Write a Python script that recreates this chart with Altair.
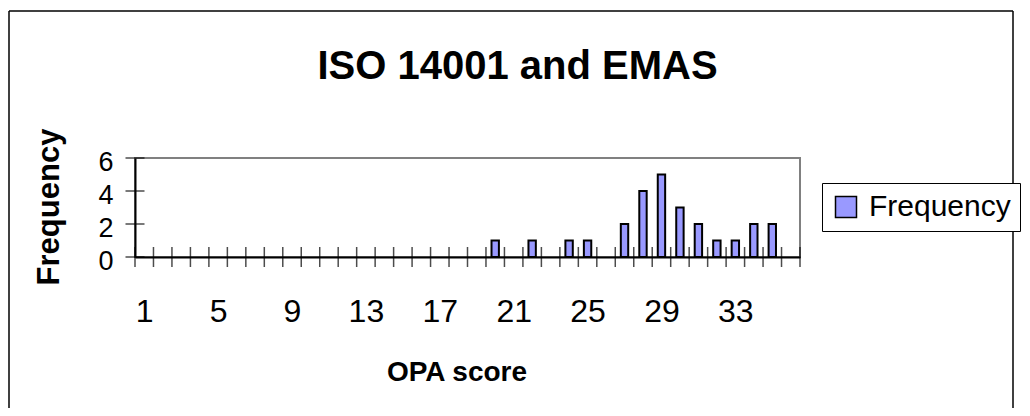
import altair as alt
import pandas as pd

# ---- data ----
scores = list(range(1, 37))
freq = [0] * 19 + [1, 0, 1, 0, 1, 1, 0, 2, 4, 5, 3, 2, 1, 1, 2, 2, 0]
x_labels = [1, 5, 9, 13, 17, 21, 25, 29, 33]
y_ticks = [0, 2, 4, 6]
series_name = "Frequency"
chart_title = "ISO 14001 and EMAS"
x_title = "OPA score"
y_title = "Frequency"

FONT = "Liberation Sans"
BAR_FILL = "#9999FF"

bars_df = pd.DataFrame({"score": scores, "freq": freq, "series": series_name})
bars_df = bars_df[bars_df["freq"] > 0]
xtick_pos = [s - 0.5 for s in scores] + [scores[-1] + 0.5]
xtick_df = pd.DataFrame({"score": xtick_pos, "freq": [0] * len(xtick_pos)})
ytick_df = pd.DataFrame({"freq": y_ticks, "score": [scores[0] - 0.5] * len(y_ticks)})

x_scale = alt.Scale(domain=[scores[0] - 0.5, scores[-1] + 0.5], nice=False, zero=False)
y_scale = alt.Scale(domain=[0, 6], nice=False)

x_axis = alt.Axis(
    values=x_labels, title=x_title, grid=False, ticks=False, tickSize=0,
    domainColor="black", domainWidth=2,
    labelFont=FONT, labelFontSize=32, labelColor="black", labelPadding=64,
    labelBaseline="alphabetic", labelFlush=False, labelOverlap=False,
    titleFont=FONT, titleFontSize=28, titleFontWeight="bold", titleColor="black",
    titleX=321.5, titleY=123, titleBaseline="alphabetic", titleAlign="center",
)
y_axis = alt.Axis(
    values=y_ticks, title=y_title, grid=False, ticks=False, tickSize=0,
    domainColor="black", domainWidth=2,
    labelFont=FONT, labelFontSize=27, labelColor="black", labelPadding=22,
    labelBaseline="middle", labelOffset=4, labelFlush=False, labelOverlap=False,
    titleFont=FONT, titleFontSize=31, titleFontWeight="bold", titleColor="black",
    titleAngle=270, titleX=-77, titleY=48.5, titleBaseline="alphabetic", titleAlign="center",
)

bars = alt.Chart(bars_df).transform_calculate(
    x0="datum.score - 0.2", x1="datum.score + 0.2", base="0"
).mark_bar(stroke="black", strokeWidth=2).encode(
    x=alt.X("x0:Q", scale=x_scale, axis=x_axis),
    x2="x1:Q",
    y=alt.Y("freq:Q", scale=y_scale, axis=y_axis),
    y2="base:Q",
    color=alt.Color(
        "series:N",
        scale=alt.Scale(domain=[series_name], range=[BAR_FILL]),
        legend=alt.Legend(
            title=None, orient="none", legendX=687, legendY=25,
            padding=9, strokeColor="black", fillColor="white", cornerRadius=0,
            symbolType="square", symbolSize=441, symbolStrokeColor="black",
            symbolStrokeWidth=1.5, symbolOpacity=1,
            labelFont=FONT, labelFontSize=30, labelColor="black", labelOffset=8,
        ),
    ),
)

xticks = alt.Chart(xtick_df).mark_tick(
    orient="vertical", size=20, thickness=1.5, color="black"
).encode(
    x=alt.X("score:Q", scale=x_scale, axis=x_axis),
    y=alt.Y("freq:Q", scale=y_scale, axis=y_axis),
)

yticks = alt.Chart(ytick_df).mark_tick(
    orient="horizontal", size=19, thickness=1.5, color="black"
).encode(
    x=alt.X("score:Q", scale=x_scale, axis=x_axis),
    y=alt.Y("freq:Q", scale=y_scale, axis=y_axis),
)

title_text = alt.Chart(alt.Data(values=[{"t": chart_title}])).mark_text(
    font=FONT, fontSize=40, fontWeight="bold", color="black",
    align="center", baseline="alphabetic",
).encode(text="t:N", x=alt.value(382.5), y=alt.value(-79))

one = alt.Data(values=[{"a": 1}])
frame_left = alt.Chart(one).mark_rule(color="black", strokeWidth=1.5).encode(
    x=alt.value(-126), y=alt.value(-147), y2=alt.value(400))
frame_right = alt.Chart(one).mark_rule(color="black", strokeWidth=1.5).encode(
    x=alt.value(878), y=alt.value(-147), y2=alt.value(400))
frame_top = alt.Chart(one).mark_rule(color="black", strokeWidth=1.5).encode(
    x=alt.value(-126), x2=alt.value(878), y=alt.value(-147))

chart = alt.layer(
    frame_left, frame_right, frame_top, xticks, yticks, bars, title_text
).properties(
    width=665, height=99,
    padding={"left": 127, "top": 150, "right": 222, "bottom": 151},
    autosize=alt.AutoSizeParams(type="none"),
).configure_view(
    stroke="#808080", strokeWidth=2
).configure_axis(labelOverlap=False)

chart.save("out.html", embed_options={"renderer": "svg", "actions": False})
